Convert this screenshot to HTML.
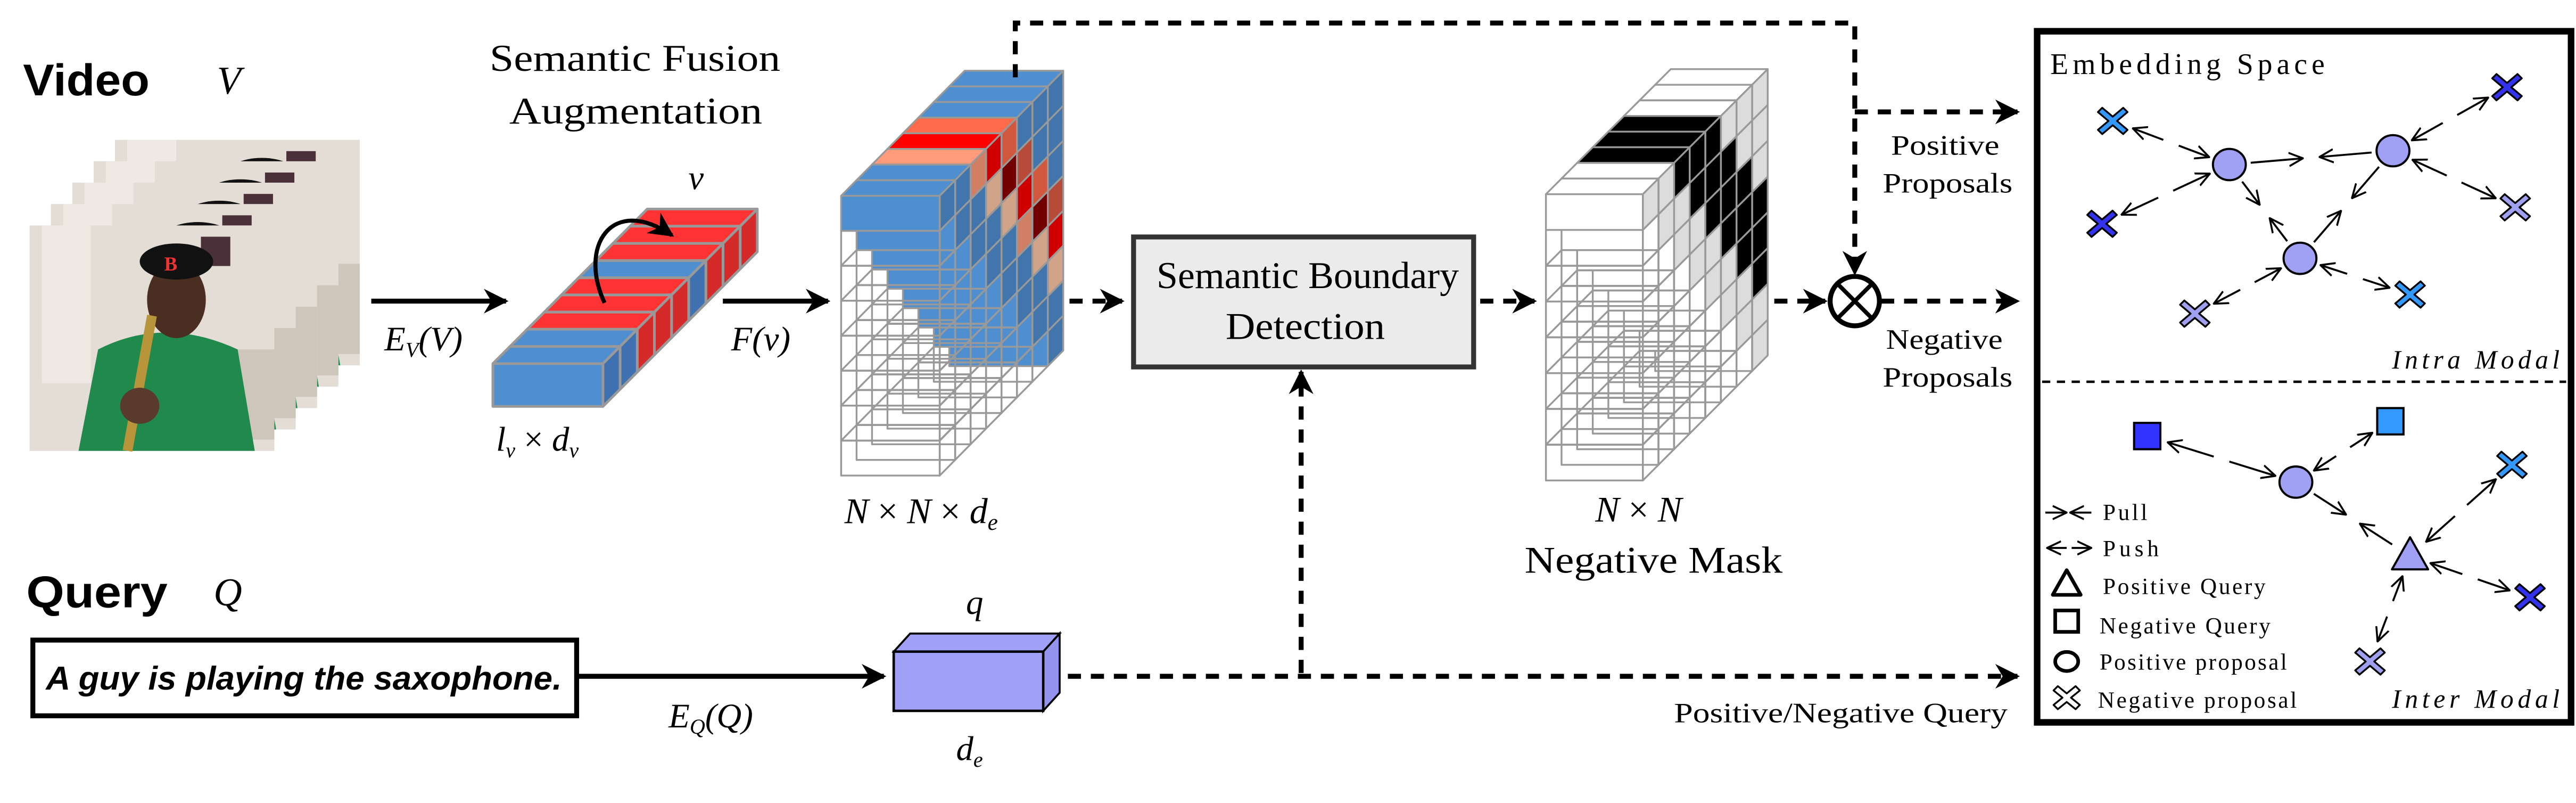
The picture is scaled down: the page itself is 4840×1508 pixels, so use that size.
<!DOCTYPE html>
<html><head><meta charset="utf-8"><style>
html,body{margin:0;padding:0;background:#fff;}
svg{display:block;}
.sf{font-family:"Liberation Serif",serif;}
.it{font-family:"Liberation Serif",serif;font-style:italic;}
</style></head><body>
<svg id="s" xmlns="http://www.w3.org/2000/svg" viewBox="0 0 1568 488" width="4840" height="1508" preserveAspectRatio="none">
<defs>
<marker id="ah" viewBox="0 0 10 10" refX="9" refY="5" markerWidth="15" markerHeight="15" markerUnits="userSpaceOnUse" orient="auto"><path d="M0,0 L10,5 L0,10 L3,5 Z" fill="#000"/></marker>
<marker id="oa" viewBox="0 0 10 10" refX="9.5" refY="5" markerWidth="9" markerHeight="9" markerUnits="userSpaceOnUse" orient="auto"><path d="M0,0.5 L9.5,5 L0,9.5" fill="none" stroke="#000" stroke-width="1.3"/></marker>
</defs>
<rect width="1568" height="488" fill="#fff"/>
<g id="photos"></g>
<g id="dyn"></g>

<!-- Titles -->
<text x="14" y="58" font-family="Liberation Sans,sans-serif" font-weight="bold" font-size="27" textLength="77" lengthAdjust="spacingAndGlyphs">Video</text>
<text x="132" y="57" class="it" font-size="24">V</text>
<text x="16" y="369" font-family="Liberation Sans,sans-serif" font-weight="bold" font-size="27" textLength="86" lengthAdjust="spacingAndGlyphs">Query</text>
<text x="130" y="368" class="it" font-size="24">Q</text>

<text x="298" y="43" class="sf" font-size="23" textLength="177" lengthAdjust="spacingAndGlyphs">Semantic Fusion</text>
<text x="310" y="75" class="sf" font-size="23" textLength="154" lengthAdjust="spacingAndGlyphs">Augmentation</text>

<!-- main arrows -->
<line x1="226" y1="183" x2="308" y2="183" stroke="#000" stroke-width="3" marker-end="url(#ah)"/>
<text x="234" y="213" class="it" font-size="21">E<tspan font-size="13" dy="4">V</tspan><tspan dy="-4">(V)</tspan></text>
<line x1="440" y1="183" x2="504" y2="183" stroke="#000" stroke-width="3" marker-end="url(#ah)"/>
<text x="445" y="213" class="it" font-size="21">F(v)</text>
<text x="419" y="115" class="it" font-size="21">v</text>
<text x="302" y="274" class="it" font-size="21">l<tspan font-size="13" dy="4">v</tspan><tspan dy="-4" font-style="normal"> × </tspan>d<tspan font-size="13" dy="4">v</tspan></text>
<path d="M368,184 C352,150 372,118 409,143" fill="none" stroke="#000" stroke-width="2.5" marker-end="url(#ah)"/>

<text x="514" y="318" class="it" font-size="22">N <tspan font-style="normal">×</tspan> N <tspan font-style="normal">×</tspan> d<tspan font-size="14" dy="4">e</tspan></text>

<!-- dashed connectors -->
<g fill="none" stroke="#000" stroke-width="3" stroke-dasharray="8,6">
<line x1="651" y1="183" x2="683" y2="183" marker-end="url(#ah)"/>
<line x1="901" y1="183" x2="934" y2="183" marker-end="url(#ah)"/>
<line x1="1080" y1="183" x2="1111" y2="183" marker-end="url(#ah)"/>
<line x1="1145" y1="183" x2="1228" y2="183" marker-end="url(#ah)"/>
<polyline points="618,47 618,14 1129,14 1129,166" marker-end="url(#ah)"/>
<line x1="1129" y1="68" x2="1228" y2="68" marker-end="url(#ah)"/>
<line x1="650" y1="411" x2="1228" y2="411" marker-end="url(#ah)"/>
<line x1="792" y1="409" x2="792" y2="226" marker-end="url(#ah)"/>
</g>
<circle cx="1129" cy="183" r="15" fill="#fff" stroke="#000" stroke-width="3"/>
<line x1="1118.4" y1="172.4" x2="1139.6" y2="193.6" stroke="#000" stroke-width="2.5"/>
<line x1="1139.6" y1="172.4" x2="1118.4" y2="193.6" stroke="#000" stroke-width="2.5"/>

<text x="1151" y="94" class="sf" font-size="17" textLength="66" lengthAdjust="spacingAndGlyphs">Positive</text>
<text x="1146" y="117" class="sf" font-size="17" textLength="79" lengthAdjust="spacingAndGlyphs">Proposals</text>
<text x="1148" y="212" class="sf" font-size="17" textLength="71" lengthAdjust="spacingAndGlyphs">Negative</text>
<text x="1146" y="235" class="sf" font-size="17" textLength="79" lengthAdjust="spacingAndGlyphs">Proposals</text>

<!-- SBD box -->
<rect x="690" y="144" width="207" height="79" fill="#ebebeb" stroke="#333" stroke-width="3"/>
<text x="704" y="175" class="sf" font-size="23" textLength="184" lengthAdjust="spacingAndGlyphs">Semantic Boundary</text>
<text x="746" y="206" class="sf" font-size="23" textLength="97" lengthAdjust="spacingAndGlyphs">Detection</text>

<text x="971" y="317" class="it" font-size="22">N <tspan font-style="normal">×</tspan> N</text>
<text x="928" y="348" class="sf" font-size="23" textLength="157" lengthAdjust="spacingAndGlyphs">Negative Mask</text>

<!-- Query -->
<rect x="20" y="389" width="331" height="46" fill="#fff" stroke="#000" stroke-width="3"/>
<text x="28" y="419" font-family="Liberation Sans,sans-serif" font-weight="bold" font-style="italic" font-size="20" textLength="314" lengthAdjust="spacingAndGlyphs">A guy is playing the saxophone.</text>
<line x1="352" y1="411" x2="538" y2="411" stroke="#000" stroke-width="3" marker-end="url(#ah)"/>
<text x="407" y="442" class="it" font-size="21">E<tspan font-size="13" dy="4">Q</tspan><tspan dy="-4">(Q)</tspan></text>
<polygon points="544,396 554,385 645,385 635,396" fill="#a0a0f8" stroke="#000" stroke-width="1.2"/>
<polygon points="635,396 645,385 645,421 635,432" fill="#9494ee" stroke="#000" stroke-width="1.2"/>
<rect x="544" y="396" width="91" height="36" fill="#a0a0f8" stroke="#000" stroke-width="1.5"/>
<text x="588" y="373" class="it" font-size="21">q</text>
<text x="582" y="462" class="it" font-size="21">d<tspan font-size="13" dy="4">e</tspan></text>
<text x="1019" y="439" class="sf" font-size="17" textLength="203" lengthAdjust="spacingAndGlyphs">Positive/Negative Query</text>

<!-- Embedding space -->
<rect x="1240" y="19" width="325" height="420" fill="#fff" stroke="#000" stroke-width="4"/>
<text x="1248" y="45" class="sf" font-size="18" textLength="167">Embedding Space</text>
<line x1="1243" y1="232" x2="1562" y2="232" stroke="#000" stroke-width="1.5" stroke-dasharray="5,4"/>
<text x="1456" y="224" class="it" font-size="16" textLength="102">Intra Modal</text>
<text x="1456" y="430" class="it" font-size="16" textLength="102">Inter Modal</text>
<g id="emb"></g>
<g class="sf" font-size="14">
<text x="1280" y="316" textLength="27">Pull</text>
<text x="1280" y="338" textLength="34">Push</text>
<text x="1280" y="361" textLength="99">Positive Query</text>
<text x="1278" y="385" textLength="104">Negative Query</text>
<text x="1278" y="407" textLength="114">Positive proposal</text>
<text x="1277" y="430" textLength="121">Negative proposal</text>
</g>
</svg>
<script>
function P(a){return a.map(p=>p[0].toFixed(2)+','+p[1].toFixed(2)).join(' ');}
function shade(h,f){let n=parseInt(h.slice(1),16);let r=n>>16,g=(n>>8)&255,b=n&255;
 const c=v=>Math.max(0,Math.min(255,Math.round(v*f)));return 'rgb('+c(r)+','+c(g)+','+c(b)+')';}
function poly(pts,fill,stroke,sw){return '<polygon points="'+P(pts)+'" fill="'+fill+'" stroke="'+stroke+'" stroke-width="'+sw+'" stroke-linejoin="round"/>';}
function cube(x,y,w,h,dx,dy,cols,stroke,sw){
 const fr=[[x,y],[x+w,y],[x+w,y+h],[x,y+h]];
 const tp=[[x,y],[x+w,y],[x+w+dx,y+dy],[x+dx,y+dy]];
 const rt=[[x+w,y],[x+w+dx,y+dy],[x+w+dx,y+h+dy],[x+w,y+h]];
 if(!cols) return poly(tp,'none',stroke,sw)+poly(rt,'none',stroke,sw)+poly(fr,'none',stroke,sw);
 return poly(tp,cols[1],stroke,sw)+poly(rt,cols[2],stroke,sw)+poly(fr,cols[0],stroke,sw);
}
let out='';
const bar=['B','B','R','R','R','B','R','R','R'];
for(let k=8;k>=0;k--){const c=bar[k]=='B'?['#4f8fd0','#4f8fd0','#3f70b0']:['#ff3333','#ff3333','#d42a2a'];
 out+=cube(300+k*10.44,221-k*10.44,67,26,10.44,-10.44,c,'#999',1.6);}
function tcol(k,r){if(r>k)return null;const s=k-r;let c='#4f8fd0';
 if(s==2)c=(r%3==0)?'#ff9b7a':'#ffc8a8';else if(s==3)c=(r%2)?'#8b0000':'#ff0000';else if(s==4)c=(r%2)?'#e05a45':'#ff6a4a';
 return [c,c,shade(c,0.82)];}
for(let k=7;k>=0;k--)for(let r=7;r>=0;r--){
 out+=cube(512+k*9.4,119+r*21.25-k*9.5,60,21.25,9.4,-9.5,tcol(k,r),'#999',1.1);}
function mcol(k,r){if(r>k)return null;const s=k-r;
 if(s>=2&&s<=4&&r<=5)return ['#000','#000','#000'];return ['#fff','#fff','#dcdcdc'];}
for(let k=7;k>=0;k--)for(let r=7;r>=0;r--){
 out+=cube(941+k*9.5,118+r*21.75-k*9.5,59,21.75,9.5,-9.5,mcol(k,r),'#999',1.1);}
document.getElementById('dyn').innerHTML=out;
let ph='';
for(let k=4;k>=0;k--){const x=18+13*k,y=137-13*k,w=149,h=137;
 const X=f=>x+f*w, Y=f=>y+f*h;
 ph+='<rect x="'+x+'" y="'+y+'" width="'+w+'" height="'+h+'" fill="#e4ddd6"/>';
 ph+='<rect x="'+X(0.05)+'" y="'+y+'" width="'+(0.2*w)+'" height="'+(0.7*h)+'" fill="#efe9e3"/>';
 ph+='<rect x="'+X(0.7)+'" y="'+Y(0.05)+'" width="'+(0.12*w)+'" height="'+(0.13*h)+'" fill="#4a3038"/>';
 ph+='<rect x="'+X(0.82)+'" y="'+Y(0.55)+'" width="'+(0.18*w)+'" height="'+(0.4*h)+'" fill="#cfc6bb"/>';
 ph+='<path d="M'+X(0.2)+','+Y(1)+' L'+X(0.28)+','+Y(0.55)+' Q'+X(0.55)+','+Y(0.4)+' '+X(0.85)+','+Y(0.55)+' L'+X(0.92)+','+Y(1)+' Z" fill="#1f8a4c"/>';
 ph+='<ellipse cx="'+X(0.6)+'" cy="'+Y(0.33)+'" rx="'+(0.12*w)+'" ry="'+(0.17*h)+'" fill="#4a2e22"/>';
 ph+='<ellipse cx="'+X(0.6)+'" cy="'+Y(0.16)+'" rx="'+(0.15*w)+'" ry="'+(0.08*h)+'" fill="#111"/>';
 ph+='<text x="'+X(0.55)+'" y="'+Y(0.2)+'" font-family="Liberation Serif,serif" font-weight="bold" font-size="12" fill="#e33">B</text>';
 ph+='<line x1="'+X(0.5)+'" y1="'+Y(0.4)+'" x2="'+X(0.4)+'" y2="'+Y(1)+'" stroke="#b8953a" stroke-width="6"/>';
 ph+='<ellipse cx="'+X(0.45)+'" cy="'+Y(0.8)+'" rx="'+(0.08*w)+'" ry="'+(0.08*h)+'" fill="#5a3a2a"/>';
}
document.getElementById('photos').innerHTML=ph;
let e='';
const N={c1:[1357,100],c2:[1456.6,91.6],c3:[1400,157],c4:[1397.5,293],
 x1:[1286,73.5],x2:[1526,53],x3:[1279.5,136],x4:[1531,126],x5:[1336,190.6],x6:[1467,179],
 x7:[1529,282.5],x8:[1540,363],x9:[1442.6,402],s1:[1307,265],s2:[1455,256],t:[1467,338]};
function seg(a,b,m){return '<line x1="'+a[0].toFixed(1)+'" y1="'+a[1].toFixed(1)+'" x2="'+b[0].toFixed(1)+'" y2="'+b[1].toFixed(1)+'" stroke="#000" stroke-width="1.2"'+(m?' marker-end="url(#oa)"':'')+'/>';}
function link(A,B,pull){const a=N[A],b=N[B];const dx=b[0]-a[0],dy=b[1]-a[1],L=Math.hypot(dx,dy),ux=dx/L,uy=dy/L;
 const sh=13;const a2=[a[0]+ux*sh,a[1]+uy*sh],b2=[b[0]-ux*sh,b[1]-uy*sh];
 const m=[(a[0]+b[0])/2,(a[1]+b[1])/2],g=5;const ma=[m[0]-ux*g,m[1]-uy*g],mb=[m[0]+ux*g,m[1]+uy*g];
 if(pull)return seg(a2,ma,1)+seg(b2,mb,1);return seg(ma,a2,1)+seg(mb,b2,1);}
e+=link('c1','c2',1)+link('c1','c3',1)+link('c2','c3',1)+link('c4','t',1);
[['c1','x1'],['c1','x3'],['c2','x2'],['c2','x4'],['c3','x5'],['c3','x6'],['c4','s1'],['c4','s2'],['t','x7'],['t','x8'],['t','x9']].forEach(p=>e+=link(p[0],p[1],0));
function X(c,col,sx,sy){const x=c[0],y=c[1],a=2.6;
 const pts=[[-sx,-sy+a],[-sx+a,-sy],[0,-a],[sx-a,-sy],[sx,-sy+a],[a,0],[sx,sy-a],[sx-a,sy],[0,a],[-sx+a,sy],[-sx,sy-a],[-a,0]].map(p=>[x+p[0],y+p[1]]);
 return poly(pts,col,'#000',1.1);}
['c1','c2','c3','c4'].forEach(k=>e+='<ellipse cx="'+N[k][0]+'" cy="'+N[k][1]+'" rx="10" ry="9.5" fill="#a0a0f5" stroke="#000" stroke-width="1.3"/>');
e+=X(N.x1,'#3399ff',9,8)+X(N.x2,'#3333ee',9,8)+X(N.x3,'#3333ee',9,8)+X(N.x4,'#a0a0f0',9,8)+X(N.x5,'#a0a0f0',9,8)+X(N.x6,'#3399ff',9,8);
e+=X(N.x7,'#3399ff',9,8)+X(N.x8,'#3333ee',9,8)+X(N.x9,'#a0a0f0',9,8);
e+='<rect x="1299" y="257" width="16" height="16" fill="#3333ff" stroke="#000" stroke-width="1.3"/>';
e+='<rect x="1447" y="248" width="16" height="16" fill="#3399ff" stroke="#000" stroke-width="1.3"/>';
e+=poly([[1467,326.5],[1456,346],[1478,346]],'#a0a0f5','#000',1.3);
e+=seg([1245,311.5],[1258,311.5],1)+seg([1273,311.5],[1260,311.5],1);
e+=seg([1258,333],[1246,333],1)+seg([1261,333],[1273,333],1);
e+=poly([[1258,346.5],[1249.5,361.5],[1266.5,361.5]],'none','#000',2.2);
e+='<rect x="1251" y="371" width="14" height="13" fill="none" stroke="#000" stroke-width="2.2"/>';
e+='<ellipse cx="1258" cy="402" rx="7" ry="5.8" fill="none" stroke="#000" stroke-width="2.2"/>';
e+=X([1258,424],'#fff',8,7);
document.getElementById('emb').innerHTML=e;
</script>
</body></html>
